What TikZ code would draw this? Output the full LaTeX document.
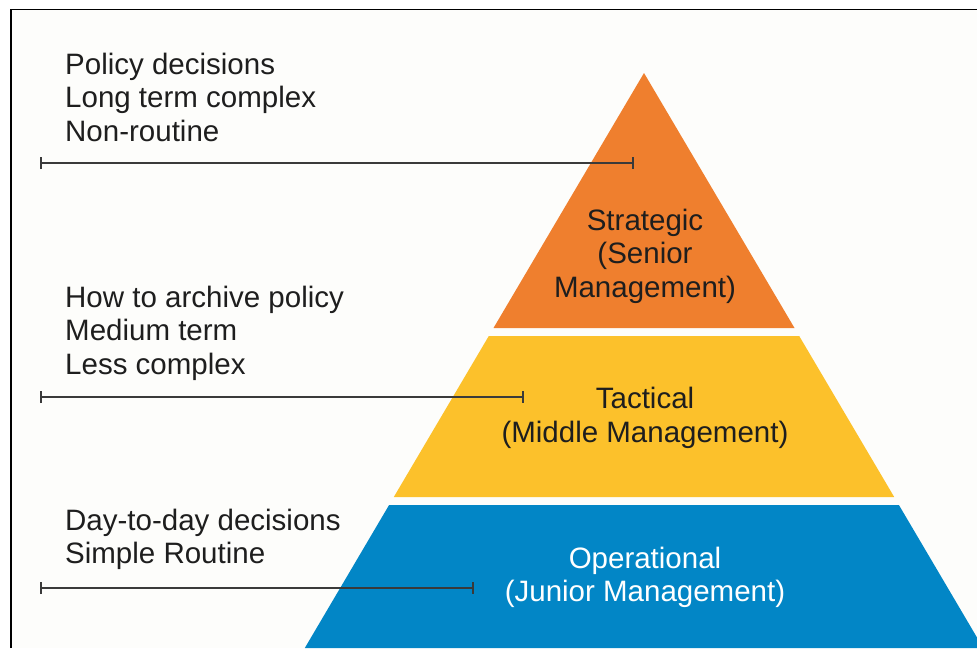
\documentclass[tikz,border=0pt]{standalone}
\usepackage{fontspec}
\setmainfont{Liberation Sans}
\usetikzlibrary{arrows.meta}
\definecolor{bgc}{HTML}{FDFDFB}
\definecolor{orangec}{HTML}{EF7F2E}
\definecolor{yellowc}{HTML}{FCC12B}
\definecolor{bluec}{HTML}{0286C6}
\definecolor{barc}{HTML}{3A3A3A}
\definecolor{txtc}{HTML}{1E1E1E}
\tikzset{
  lefttext/.style={anchor=base west, inner sep=0pt, text=txtc, font=\fontsize{29.5}{34}\selectfont},
  midtext/.style={anchor=base, inner sep=0pt, text=txtc, font=\fontsize{29.5}{34}\selectfont},
  bluetext/.style={midtext, text=white},
  levelbar/.style={draw=barc, line width=2pt, {Bar[width=12pt,line width=2pt]}-{Bar[width=12pt,line width=2pt]}},
}
\begin{document}
\begin{tikzpicture}[x=1pt,y=-1pt]
\useasboundingbox (0,0) rectangle (977,648);
\fill[bgc] (0,0) rectangle (977,648);
\fill[white] (0,0) rectangle (977,9);
\fill[white] (0,0) rectangle (11,648);
\draw[black, line width=1.6pt] (11,648) -- (11,9.5) -- (977,9.5);
% pyramid
\fill[orangec] (644,73) -- (794.5,328) -- (493.5,328) -- cycle;
\fill[yellowc] (488.8,336) -- (799.2,336) -- (894.2,497) -- (393.8,497) -- cycle;
\begin{scope}
\clip (0,0) rectangle (977,648);
\fill[bluec] (389.1,505) -- (898.9,505) -- (983.2,648) -- (304.8,648) -- cycle;
\end{scope}
% pyramid labels
\node[midtext] (s1) at (645,230) {Strategic};
\node[midtext] (s2) at (645,263.5) {(Senior};
\node[midtext] (s3) at (645,297) {Management)};
\node[midtext] (t1) at (645,408.5) {Tactical};
\node[midtext] (t2) at (645,442) {(Middle Management)};
\node[bluetext] (o1) at (645,568) {Operational};
\node[bluetext] (o2) at (645,601.5) {(Junior Management)};
% left texts
\node[lefttext] (a1) at (65,74) {Policy decisions};
\node[lefttext] (a2) at (65,107.5) {Long term complex};
\node[lefttext] (a3) at (65,141) {Non-routine};
\node[lefttext] (b1) at (65,307) {How to archive policy};
\node[lefttext] (b2) at (65,340.5) {Medium term};
\node[lefttext] (b3) at (65,374) {Less complex};
\node[lefttext] (c1) at (65,530) {Day-to-day decisions};
\node[lefttext] (c2) at (65,563.5) {Simple Routine};
% bars
\coordinate (ba) at (40,163);
\coordinate (ea) at (634,163);
\coordinate (bb) at (40,397);
\coordinate (eb) at (524,397);
\coordinate (bc) at (40,588);
\coordinate (ec) at (474,588);
\draw[levelbar] (ba) -- (ea);
\draw[levelbar] (bb) -- (eb);
\draw[levelbar] (bc) -- (ec);
\end{tikzpicture}
\end{document}
